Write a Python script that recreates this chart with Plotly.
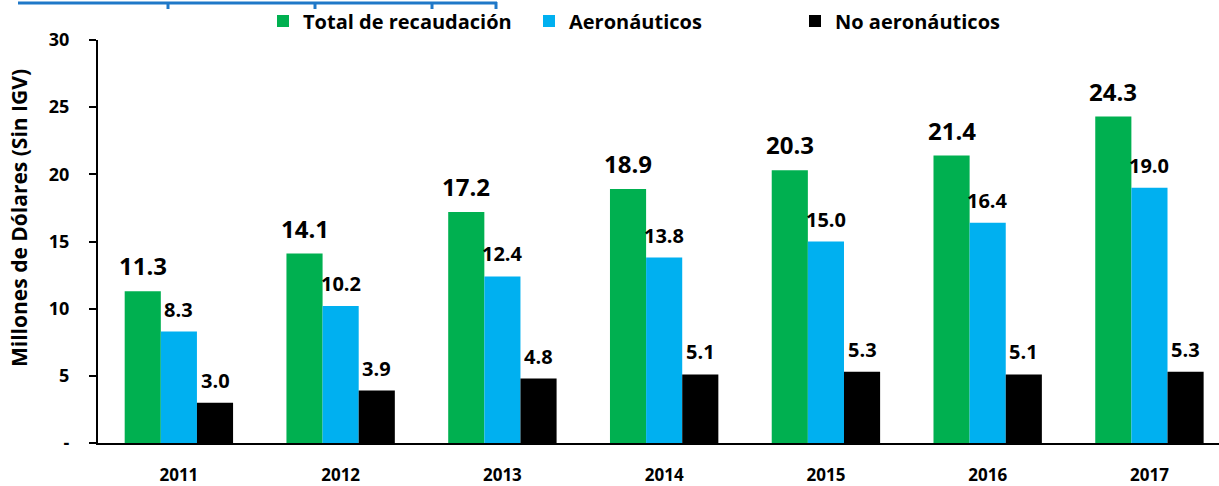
import plotly.graph_objects as go

years = ["2011", "2012", "2013", "2014", "2015", "2016", "2017"]
total = [11.3, 14.1, 17.2, 18.9, 20.3, 21.4, 24.3]
aero = [8.3, 10.2, 12.4, 13.8, 15.0, 16.4, 19.0]
no_aero = [3.0, 3.9, 4.8, 5.1, 5.3, 5.1, 5.3]
series_names = ["Total de recaudación", "Aeronáuticos", "No aeronáuticos"]
colors = ["#00B050", "#00B0F0", "#000000"]
y_tickvals = [0, 5, 10, 15, 20, 25, 30]
y_ticktext = ["-", "5", "10", "15", "20", "25", "30"]
y_title = "Millones de Dólares (Sin IGV)"

FONT = "Open Sans"
W, H = 1219, 486
L, R, T, B = 98, 0, 40, 43
plot_w = W - L - R
plot_h = H - T - B
x_range = [-0.5, 6.43]
bargap = 0.33
px_per_cat = plot_w / (x_range[1] - x_range[0])
bar_w = px_per_cat * (1 - bargap) / 3

fig = go.Figure()
for name, vals, col in zip(series_names, [total, aero, no_aero], colors):
    fig.add_trace(go.Bar(x=years, y=vals, name=name, marker_color=col,
                         marker_line_width=0))


def px2paper(px, py):
    return (px - L) / plot_w, (H - B - py) / plot_h


annotations = []
label_sizes = [24, 20, 20]
for i, vals in enumerate([total, aero, no_aero]):
    for j, v in enumerate(vals):
        annotations.append(dict(
            x=j, y=v, xref="x", yref="y", text=f"<b>{v:.1f}</b>", showarrow=False,
            xshift=(i - 1) * bar_w, yanchor="bottom", yshift=7,
            font=dict(family=FONT, size=label_sizes[i], color="#000000")))

tx_, ty_ = px2paper(19, 218)
annotations.append(dict(x=tx_, y=ty_, xref="paper", yref="paper", text=f"<b>{y_title}</b>",
                        showarrow=False, textangle=-90, xanchor="center", yanchor="middle",
                        font=dict(family=FONT, size=21, color="#000000")))

# decorative blue bracket line at the top (remnant of a cropped title)
shapes = []
blue = "#1F78C8"
x0, y0 = px2paper(18, 3)
x1, _ = px2paper(497, 3)
shapes.append(dict(type="line", xref="paper", yref="paper", x0=x0, x1=x1, y0=y0, y1=y0,
                   line=dict(color=blue, width=3)))
for tx in [168, 315, 432, 496]:
    a, b0 = px2paper(tx, 2)
    _, b1 = px2paper(tx, 9)
    shapes.append(dict(type="line", xref="paper", yref="paper", x0=a, x1=a, y0=b0, y1=b1,
                       line=dict(color=blue, width=3)))

lx, ly = px2paper(263, 21)

fig.update_layout(
    width=W, height=H,
    margin=dict(l=L, r=R, t=T, b=B, pad=0, autoexpand=False),
    paper_bgcolor="white", plot_bgcolor="white",
    barmode="group", bargap=bargap, bargroupgap=0,
    font=dict(family=FONT, color="#000000"),
    showlegend=True,
    legend=dict(orientation="h", x=lx, y=ly, xanchor="left", yanchor="middle",
                font=dict(family=FONT, size=20, color="#000000", weight="bold"),
                entrywidth=221, entrywidthmode="pixels", itemwidth=30,
                bgcolor="rgba(0,0,0,0)"),
    xaxis=dict(type="category", range=x_range, showgrid=False, showline=True,
               linecolor="#000000", linewidth=2, ticks="", ticklabelstandoff=16,
               tickfont=dict(family=FONT, size=17, color="#000000", weight="bold")),
    yaxis=dict(range=[0, 30], tickvals=y_tickvals, ticktext=y_ticktext,
               showgrid=False, zeroline=False, showline=True, linecolor="#000000",
               linewidth=2, ticks="outside", ticklen=7, tickwidth=2, tickcolor="#000000",
               ticklabelstandoff=16,
               tickfont=dict(family=FONT, size=18, color="#000000", weight="bold")),
    annotations=annotations,
    shapes=shapes,
)

fig.write_html("out.html", config={"displayModeBar": False},
               post_script="document.body.style.margin='0';document.body.style.overflow='hidden';")
